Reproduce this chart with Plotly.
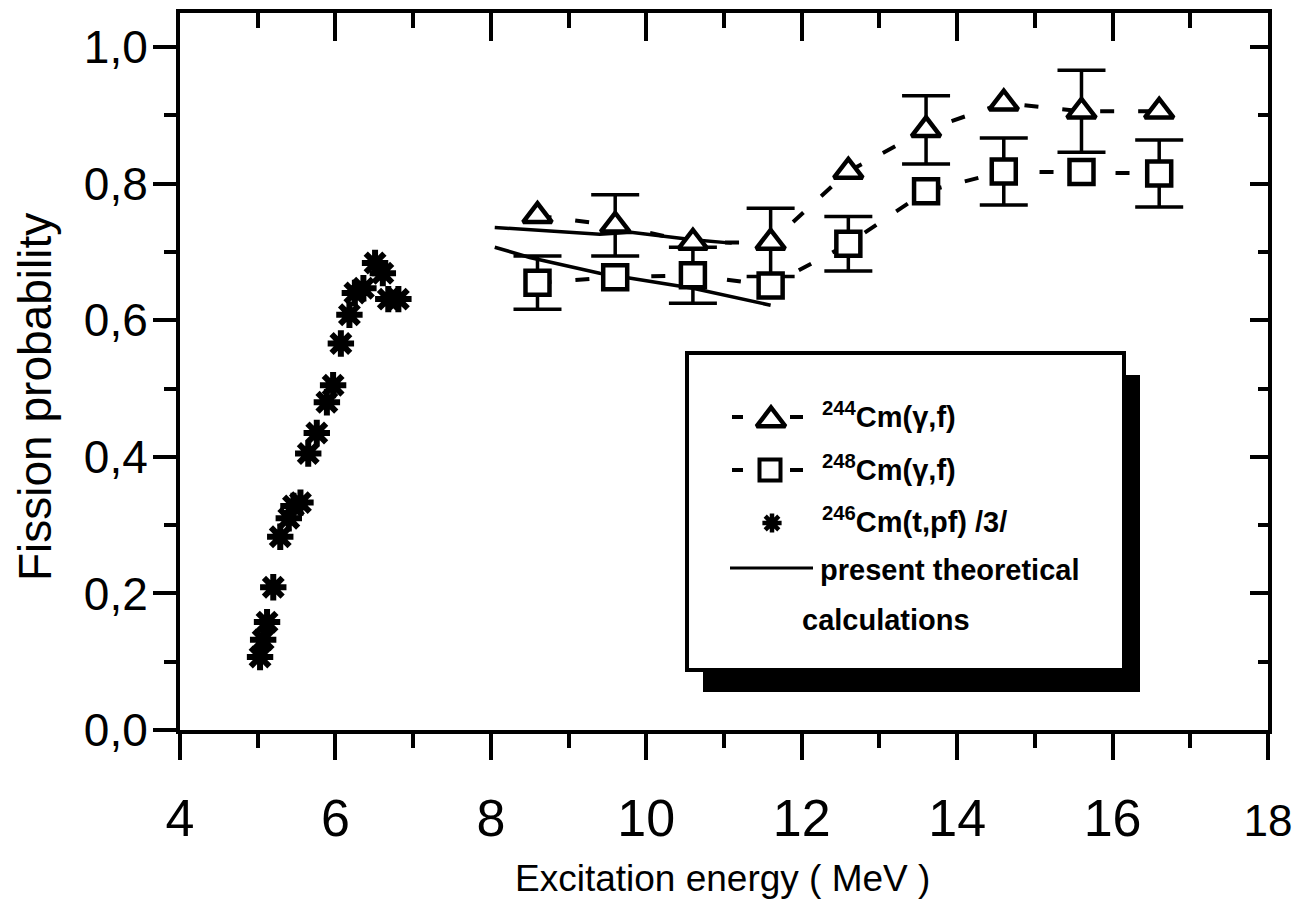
import plotly.graph_objects as go

# --- photofission data (gamma beams) ---------------------------------------
energy_gamma = [8.6, 9.6, 10.6, 11.6, 12.6, 13.6, 14.6, 15.6, 16.6]
p_cm244 = [0.753, 0.739, 0.714, 0.714, 0.818, 0.879, 0.918, 0.906, 0.906]
err_cm244 = [None, 0.045, None, 0.05, None, 0.05, None, 0.06, None]
p_cm248 = [0.655, 0.663, 0.666, 0.651, 0.712, 0.789, 0.818, 0.817, 0.815]
err_cm248 = [0.039, None, 0.041, None, 0.040, None, 0.049, None, 0.049]

# --- (t,pf) reaction data /3/ ------------------------------------------------
energy_tpf = [5.03, 5.07, 5.12, 5.20, 5.29, 5.40, 5.46, 5.55, 5.65, 5.76,
              5.89, 5.97, 6.07, 6.18, 6.25, 6.36, 6.51, 6.61, 6.68, 6.81]
p_cm246 = [0.107, 0.132, 0.158, 0.209, 0.283, 0.310, 0.328, 0.333, 0.405, 0.435,
           0.480, 0.505, 0.566, 0.608, 0.640, 0.647, 0.684, 0.669, 0.631, 0.631]

# --- present theoretical calculations ---------------------------------------
theory_upper_e = [8.05, 9.4, 9.8, 10.6, 11.1]
theory_upper_p = [0.736, 0.726, 0.729, 0.718, 0.713]
theory_lower_e = [8.05, 8.5, 9.4, 10.6, 11.6]
theory_lower_p = [0.707, 0.692, 0.669, 0.647, 0.622]

x_ticks = [4, 6, 8, 10, 12, 14, 16, 18]
x_tick_text = ["4", "6", "8", "10", "12", "14", "16",
               "<span style='font-size:44px'>18</span>"]
y_ticks = [0.0, 0.2, 0.4, 0.6, 0.8, 1.0]

FONT = "Liberation Sans, Arial, sans-serif"
BLACK = "black"

# plot area in pixels
L, R, T, B = 180, 1268, 13, 730
W, H = 1294, 909


def px_x(px):
    return (px - L) / (R - L)


def px_y(py):
    return (B - py) / (B - T)


fig = go.Figure()

# theory curves
for ex, ey in [(theory_upper_e, theory_upper_p), (theory_lower_e, theory_lower_p)]:
    fig.add_trace(go.Scatter(x=ex, y=ey, mode="lines",
                             line=dict(color=BLACK, width=3.5),
                             showlegend=False, hoverinfo="skip"))


def error_trace(values, errors):
    xs = [e for e, d in zip(energy_gamma, errors) if d is not None]
    ys = [v for v, d in zip(values, errors) if d is not None]
    ds = [d for d in errors if d is not None]
    return go.Scatter(x=xs, y=ys, mode="markers",
                      marker=dict(size=1, color="rgba(0,0,0,0)"),
                      error_y=dict(type="data", array=ds, visible=True,
                                   color=BLACK, thickness=3.5, width=24),
                      showlegend=False, hoverinfo="skip")


fig.add_trace(error_trace(p_cm244, err_cm244))
fig.add_trace(error_trace(p_cm248, err_cm248))

dash_style = "14px,24px"
fig.add_trace(go.Scatter(x=energy_gamma, y=p_cm244, mode="lines+markers",
                         line=dict(color=BLACK, width=4, dash=dash_style),
                         marker=dict(symbol="triangle-up", size=25, color="white",
                                     line=dict(color=BLACK, width=4.5)),
                         name="244Cm(γ,f)", showlegend=False))
fig.add_trace(go.Scatter(x=energy_gamma, y=p_cm248, mode="lines+markers",
                         line=dict(color=BLACK, width=4, dash=dash_style),
                         marker=dict(symbol="square", size=24, color="white",
                                     line=dict(color=BLACK, width=4.5)),
                         name="248Cm(γ,f)", showlegend=False))
fig.add_trace(go.Scatter(x=energy_tpf, y=p_cm246, mode="markers",
                         marker=dict(symbol="asterisk", size=22, color=BLACK,
                                     line=dict(color=BLACK, width=6)),
                         name="246Cm(t,pf)", showlegend=False))

# --- legend box with drop shadow --------------------------------------------
box = (687, 353, 1124, 670)
shadow_off = (16, 22)
fig.add_shape(type="rect", xref="paper", yref="paper",
              x0=px_x(box[0] + shadow_off[0]), x1=px_x(box[2] + shadow_off[0]),
              y0=px_y(box[1] + shadow_off[1]), y1=px_y(box[3] + shadow_off[1]),
              fillcolor=BLACK, line=dict(width=0), layer="below")
fig.add_shape(type="rect", xref="paper", yref="paper",
              x0=px_x(box[0]), x1=px_x(box[2]), y0=px_y(box[1]), y1=px_y(box[3]),
              fillcolor="white", line=dict(color=BLACK, width=4), layer="below")

# legend sample symbols (drawn on a hidden unit axis pair over the plot area)
row_y = [417, 470, 523, 568]
for ry in row_y[:2]:
    for a, b in [(732, 743), (790, 803)]:
        fig.add_shape(type="line", xref="paper", yref="paper",
                      x0=px_x(a), x1=px_x(b), y0=px_y(ry), y1=px_y(ry),
                      line=dict(color=BLACK, width=4))
fig.add_shape(type="line", xref="paper", yref="paper",
              x0=px_x(730), x1=px_x(813), y0=px_y(row_y[3]), y1=px_y(row_y[3]),
              line=dict(color=BLACK, width=3))

fig.add_trace(go.Scatter(x=[px_x(771)], y=[px_y(row_y[0] + 3)], mode="markers",
                         xaxis="x3", yaxis="y3",
                         marker=dict(symbol="triangle-up", size=25, color="white",
                                     line=dict(color=BLACK, width=4.5)),
                         showlegend=False, hoverinfo="skip"))
fig.add_trace(go.Scatter(x=[px_x(770)], y=[px_y(row_y[1])], mode="markers",
                         xaxis="x3", yaxis="y3",
                         marker=dict(symbol="square", size=21, color="white",
                                     line=dict(color=BLACK, width=4)),
                         showlegend=False, hoverinfo="skip"))
fig.add_trace(go.Scatter(x=[px_x(772)], y=[px_y(row_y[2])], mode="markers",
                         xaxis="x3", yaxis="y3",
                         marker=dict(symbol="asterisk", size=16, color=BLACK,
                                     line=dict(color=BLACK, width=4.5)),
                         showlegend=False, hoverinfo="skip"))

legend_rows = [
    ("<b><sup>244</sup>Cm(γ,f)</b>", 820, 415),
    ("<b><sup>248</sup>Cm(γ,f)</b>", 820, 468),
    ("<b><sup>246</sup>Cm(t,pf) /3/</b>", 820, 520),
    ("<b>present theoretical</b>", 818, 570),
    ("<b>calculations</b>", 800, 620),
]
for text, lx, ly in legend_rows:
    fig.add_annotation(text=text, xref="paper", yref="paper",
                       x=px_x(lx), y=px_y(ly), xanchor="left", yanchor="middle",
                       showarrow=False, font=dict(family=FONT, size=29, color=BLACK))

# axis titles
fig.add_annotation(text="Excitation energy ( MeV )", xref="paper", yref="paper",
                   x=px_x(722), y=px_y(878), xanchor="center", yanchor="middle",
                   showarrow=False, font=dict(family=FONT, size=37, color=BLACK))
fig.add_annotation(text="Fission probability", xref="paper", yref="paper",
                   x=px_x(35), y=px_y(397), xanchor="center", yanchor="middle",
                   textangle=-90, showarrow=False,
                   font=dict(family=FONT, size=46, color=BLACK))

axis_common = dict(showline=True, linecolor=BLACK, linewidth=4, showgrid=False,
                   zeroline=False, tickcolor=BLACK, tickwidth=4, automargin=False)

fig.update_layout(
    width=W, height=H,
    margin=dict(l=L, r=W - R, t=T, b=H - B, autoexpand=False),
    paper_bgcolor="white", plot_bgcolor="white",
    separators=",.",
    showlegend=False,
    xaxis=dict(range=[4, 18], tickmode="array", tickvals=x_ticks, ticktext=x_tick_text,
               ticks="outside", ticklen=26, ticklabelstandoff=14,
               ticklabeloverflow="allow",
               tickfont=dict(family=FONT, size=52, color=BLACK),
               minor=dict(tickmode="linear", tick0=5, dtick=2, ticks="outside",
                          ticklen=14, tickwidth=4, tickcolor=BLACK),
               **axis_common),
    yaxis=dict(range=[0, 1.05], tickmode="array", tickvals=y_ticks, tickformat=".1f",
               ticks="outside", ticklen=23, ticklabelstandoff=-4,
               tickfont=dict(family=FONT, size=46, color=BLACK),
               minor=dict(tickmode="linear", tick0=0.1, dtick=0.2, ticks="outside",
                          ticklen=12, tickwidth=4, tickcolor=BLACK),
               **axis_common),
    xaxis2=dict(range=[4, 18], overlaying="x", side="top", tickmode="array",
                tickvals=x_ticks, ticks="inside", ticklen=28, showticklabels=False,
                minor=dict(tickmode="linear", tick0=5, dtick=2, ticks="inside",
                           ticklen=15, tickwidth=4, tickcolor=BLACK),
                **axis_common),
    yaxis2=dict(range=[0, 1.05], overlaying="y", side="right", tickmode="array",
                tickvals=y_ticks, ticks="inside", ticklen=18, showticklabels=False,
                minor=dict(tickmode="linear", tick0=0.1, dtick=0.2, ticks="inside",
                           ticklen=10, tickwidth=4, tickcolor=BLACK),
                **axis_common),
    xaxis3=dict(range=[0, 1], overlaying="x", visible=False, automargin=False),
    yaxis3=dict(range=[0, 1], overlaying="y", visible=False, automargin=False),
)

# empty trace so the mirrored frame axes are drawn
fig.add_trace(go.Scatter(x=[None], y=[None], xaxis="x2", yaxis="y2",
                         showlegend=False, hoverinfo="skip"))

fig.write_html("out.html")
